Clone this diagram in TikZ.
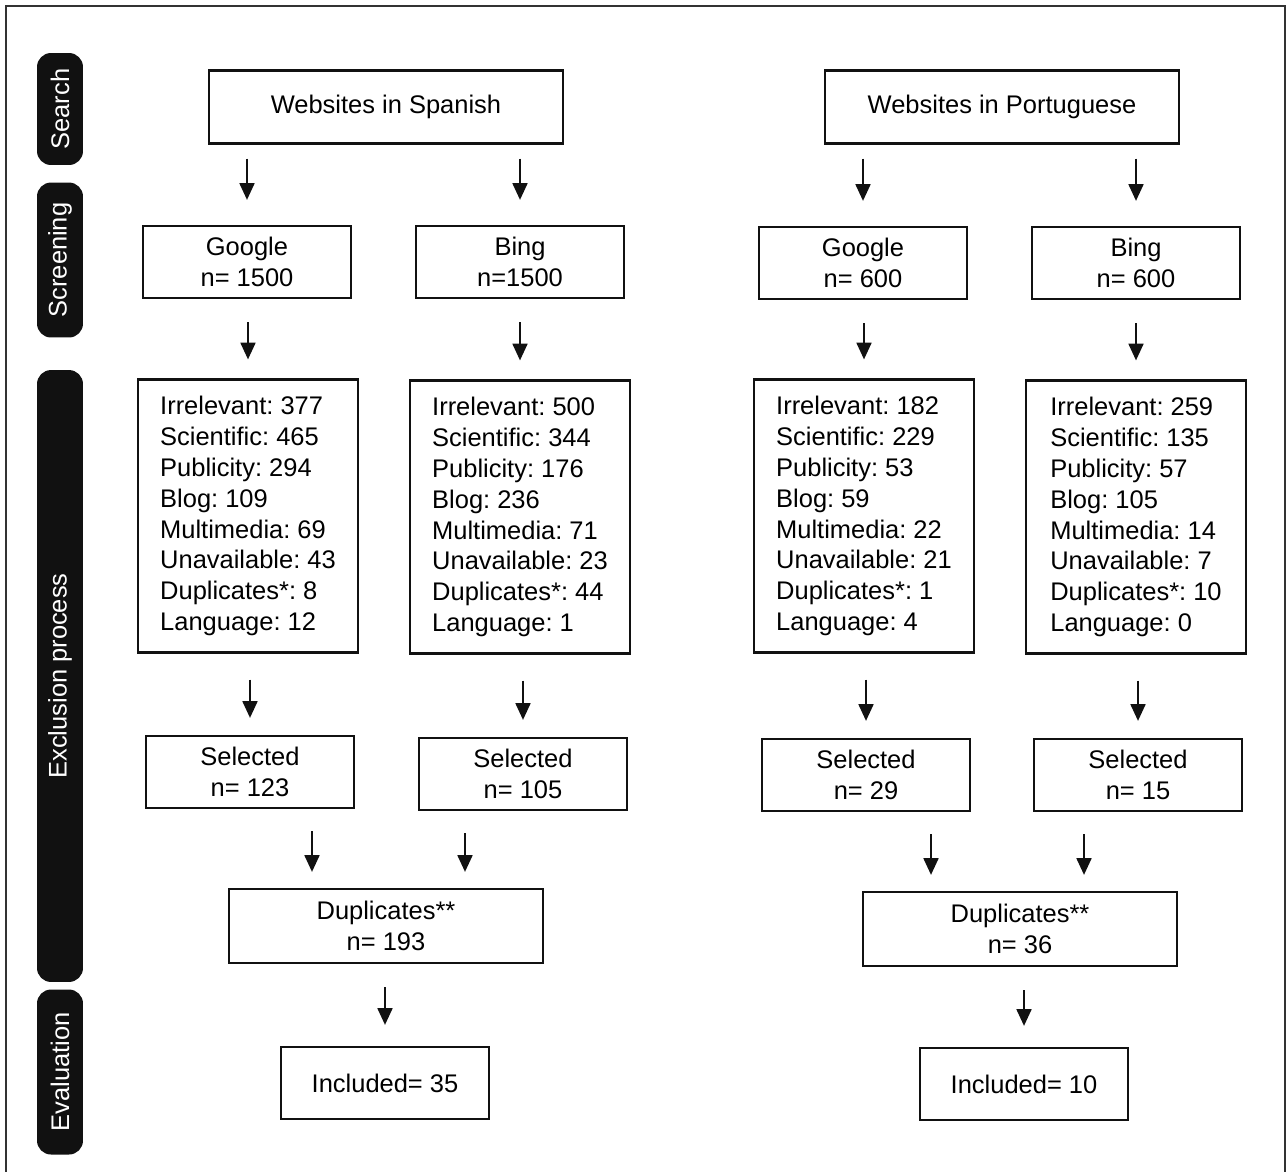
\documentclass[tikz,border=0pt]{standalone}
\usepackage{fontspec}
\setmainfont{Liberation Sans}
\usetikzlibrary{arrows.meta, calc}
\frenchspacing
\definecolor{ink}{RGB}{17, 17, 17}
\definecolor{frame}{RGB}{50, 50, 50}
\newlength\px
\setlength\px{0.02cm}
\tikzset{
    box/.style={rectangle, draw=ink, line width=1.3pt, align=center, inner sep=2pt, font=\fontsize{14.5}{17.6}\selectfont},
    webbox/.style={box, minimum width=7.08cm, minimum height=1.46cm},
    enginebox/.style={box, minimum width=4.16cm, minimum height=1.44cm},
    exclbox/.style={box, align=left, minimum width=4.4cm, minimum height=5.46cm},
    dupbox/.style={box, minimum width=6.28cm, minimum height=1.48cm},
    phase/.style={rectangle, rounded corners=0.28cm, fill=ink, text=white, rotate=90, minimum height=0.92cm, inner sep=0pt, font=\fontsize{14.5}{17.6}\selectfont},
    arr/.style={-{Triangle[length=9.5pt, width=8.5pt]}, line width=1.1pt, ink}
}

\begin{document}
\begin{tikzpicture}[x=0.02cm, y=-0.02cm]
        \useasboundingbox (0,0) rectangle (1288,1171);
        \draw[frame, line width=1.2pt] (6,1180) -- (6,6) -- (1285,6) -- (1285,1180);
        % phases
        \node[phase, minimum width=2.24cm] (search) at (60,109) {Search};
        \node[phase, minimum width=3.1cm] (screen) at (60,260) {Screening};
        \node[phase, minimum width=12.24cm] (excl) at (60,676) {Exclusion process};
        \node[phase, minimum width=3.3cm] (eval) at (60,1072) {Evaluation};
        % Spanish
        \node[webbox] (webES) at (386,107) {Websites in Spanish};
        \node[enginebox] (gES) at (247,262) {Google\\n= 1500};
        \node[enginebox] (bES) at (520,262) {Bing\\n=1500};
        \node[exclbox] (exGES) at (248,516) {Irrelevant: 377\\Scientific: 465\\Publicity: 294\\Blog: 109\\Multimedia: 69\\Unavailable: 43\\Duplicates*: 8\\Language: 12};
        \node[exclbox] (exBES) at (520,517) {Irrelevant: 500\\Scientific: 344\\Publicity: 176\\Blog: 236\\Multimedia: 71\\Unavailable: 23\\Duplicates*: 44\\Language: 1};
        \node[enginebox] (selGES) at (250,772) {Selected\\n= 123};
        \node[enginebox] (selBES) at (523,774) {Selected\\n= 105};
        \node[dupbox] (dupES) at (386,926) {Duplicates**\\n= 193};
        \node[enginebox] (incES) at (385,1083) {Included= 35};
        % Portuguese
        \node[webbox] (webPT) at (1002,107) {Websites in Portuguese};
        \node[enginebox] (gPT) at (863,263) {Google\\n= 600};
        \node[enginebox] (bPT) at (1136,263) {Bing\\n= 600};
        \node[exclbox] (exGPT) at (864,516) {Irrelevant: 182\\Scientific: 229\\Publicity: 53\\Blog: 59\\Multimedia: 22\\Unavailable: 21\\Duplicates*: 1\\Language: 4};
        \node[exclbox] (exBPT) at (1136,517) {Irrelevant: 259\\Scientific: 135\\Publicity: 57\\Blog: 105\\Multimedia: 14\\Unavailable: 7\\Duplicates*: 10\\Language: 0};
        \node[enginebox] (selGPT) at (866,775) {Selected\\n= 29};
        \node[enginebox] (selBPT) at (1138,775) {Selected\\n= 15};
        \node[dupbox] (dupPT) at (1020,929) {Duplicates**\\n= 36};
        \node[enginebox] (incPT) at (1024,1084) {Included= 10};
        % arrows
        \foreach \top/\bot in {webES/gES, webES/bES, webPT/gPT, webPT/bPT}
            \draw[arr, shorten <=14\px, shorten >=25\px] (\top.south -| \bot.north) -- (\bot.north);
        \foreach \top/\bot in {gES/exGES, bES/exBES, gPT/exGPT, bPT/exBPT}
            \draw[arr, shorten <=23\px, shorten >=19\px] (\top.south -| \bot.north) -- (\bot.north);
        \foreach \top/\bot in {exGES/selGES, exBES/selBES, exGPT/selGPT, exBPT/selBPT}
            \draw[arr, shorten <=26\px, shorten >=17\px] (\top.south -| \bot.north) -- (\bot.north);
        \foreach \top/\bot/\dx in {selGES/dupES/-74, selBES/dupES/79, selGPT/dupPT/-89, selBPT/dupPT/64}
            \draw[arr, shorten <=22\px, shorten >=16\px] ([xshift=\dx\px]\bot.north |- \top.south) -- ([xshift=\dx\px]\bot.north);
        \foreach \top/\bot in {dupES/incES, dupPT/incPT}
            \draw[arr, shorten <=23\px, shorten >=21\px] (\top.south -| \bot.north) -- (\bot.north);
    \end{tikzpicture}
\end{document}
